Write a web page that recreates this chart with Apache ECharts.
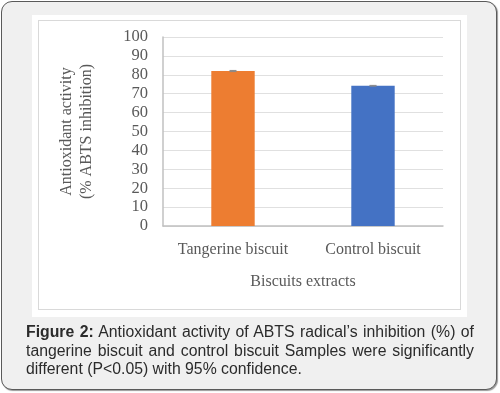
<!DOCTYPE html>
<html>
<head>
<meta charset="utf-8">
<script src="https://cdn.jsdelivr.net/npm/echarts@6/dist/echarts.min.js"></script>
<style>
  html, body { margin: 0; padding: 0; width: 500px; height: 393px; overflow: hidden; background: #ffffff; }
  #panel { position: absolute; left: 1px; top: 1px; width: 494px; height: 387px; border: 1.5px solid #5a5a5a; border-radius: 11px; background: #f0f0f0; box-shadow: 1px 1px 1px #999; }
  #white { position: absolute; left: 32px; top: 15px; width: 435px; height: 302px; background: #ffffff; }
  #frame { position: absolute; left: 38px; top: 20px; width: 421px; height: 288px; border: 1px solid #d9d9d9; }
  #chart { position: absolute; left: 0; top: 0; width: 500px; height: 393px; }
  #caption { position: absolute; left: 26px; top: 323px; width: 448px; font-family: "Liberation Sans", Arial, sans-serif; font-size: 15.8px; line-height: 18.5px; color: #2b2b2b; white-space: nowrap; }
  #caption div.j { text-align: justify; text-align-last: justify; }
</style>
</head>
<body>
<div id="panel"></div>
<div id="white"></div>
<div id="frame"></div>
<div id="chart"></div>
<div id="caption">
  <div class="j" style="white-space: normal;"><b>Figure 2:</b> Antioxidant activity of ABTS radical’s inhibition (%) of</div>
  <div class="j" style="white-space: normal;">tangerine biscuit and control biscuit Samples were significantly</div>
  <div>different (P&lt;0.05) with 95% confidence.</div>
</div>
<script>
const categories = ["Tangerine biscuit", "Control biscuit"];
const values = [82.0, 74.2];
const errors = [0.3, 0.2];
const barColors = ["#ED7D31", "#4472C4"];
const yTicks = [0, 10, 20, 30, 40, 50, 60, 70, 80, 90, 100];
const yTitle = "Antioxidant activity\n(% ABTS inhibition)";
const xTitle = "Biscuits extracts";

const chart = echarts.init(document.getElementById('chart'), null, { renderer: 'canvas' });
const serif = '"Liberation Serif", "DejaVu Serif", serif';
const textColor = '#595959';

chart.setOption({
  backgroundColor: 'transparent',
  animation: false,
  grid: { left: 163, top: 37, right: 57, bottom: 167, containLabel: false },
  xAxis: {
    type: 'category',
    data: categories,
    name: xTitle,
    nameLocation: 'middle',
    nameGap: 48,
    nameTextStyle: { fontFamily: serif, fontSize: 16, color: textColor, verticalAlign: 'top' },
    axisLine: { show: true, lineStyle: { color: '#c0c0c0', width: 1.5 } },
    axisTick: { show: false },
    axisLabel: { fontFamily: serif, fontSize: 16, color: textColor, margin: 16, interval: 0 }
  },
  yAxis: {
    type: 'value',
    min: yTicks[0],
    max: yTicks[yTicks.length - 1],
    interval: yTicks[1] - yTicks[0],
    name: yTitle,
    nameLocation: 'middle',
    nameRotate: 90,
    nameGap: 66,
    nameTextStyle: { fontFamily: serif, fontSize: 16, color: textColor, lineHeight: 20 },
    axisLine: { show: true, lineStyle: { color: '#c0c0c0', width: 1.5 } },
    axisTick: { show: false },
    splitLine: { show: true, lineStyle: { color: '#e0e0e0', width: 1 } },
    axisLabel: { fontFamily: serif, fontSize: 16.5, color: textColor, margin: 15 }
  },
  series: [
    {
      type: 'bar',
      barWidth: '31%',
      data: values.map((v, i) => ({ value: v, itemStyle: { color: barColors[i] } }))
    },
    {
      type: 'custom',
      data: values.map((v, i) => [i, v - errors[i], v + errors[i]]),
      renderItem: function (params, api) {
        const x = api.value(0);
        const lo = api.coord([x, api.value(1)]);
        const hi = api.coord([x, api.value(2)]);
        const hw = 3.5;
        const style = { stroke: '#8a8a8a', lineWidth: 1 };
        return {
          type: 'group',
          children: [
            { type: 'line', shape: { x1: lo[0], y1: lo[1], x2: hi[0], y2: hi[1] }, style: style },
            { type: 'line', shape: { x1: hi[0] - hw, y1: hi[1], x2: hi[0] + hw, y2: hi[1] }, style: style },
            { type: 'line', shape: { x1: lo[0] - hw, y1: lo[1], x2: lo[0] + hw, y2: lo[1] }, style: style }
          ]
        };
      },
      z: 10
    }
  ]
});
</script>
</body>
</html>
